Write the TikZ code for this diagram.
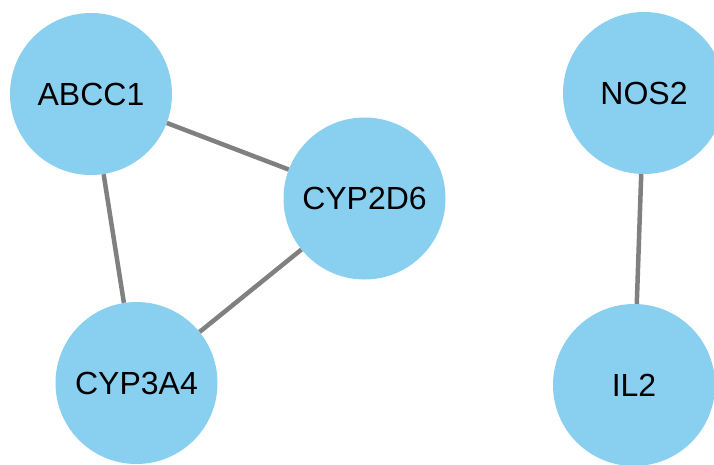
\documentclass[tikz,border=0pt]{standalone}
\usepackage{fontspec}
\setmainfont{Liberation Sans}
\definecolor{nodeblue}{RGB}{137,207,240}
\definecolor{edgegray}{RGB}{128,128,128}
\begin{document}
\begin{tikzpicture}[x=1pt,y=-1pt,
  gene/.style={circle,fill=nodeblue,draw=none,minimum size=162pt,inner sep=0pt,font=\fontsize{32}{36}\selectfont},
  link/.style={draw=edgegray,line width=4.5pt}]
\useasboundingbox (0,0) rectangle (714,464);
\clip (0,0) rectangle (714,464);
\fill[white] (0,0) rectangle (714,464);
\node[gene] (abcc1) at (91,94) {ABCC1};
\node[gene] (cyp2d6) at (364.5,198.5) {CYP2D6};
\node[gene] (cyp3a4) at (136.5,383) {CYP3A4};
\node[gene] (nos2) at (644,93) {NOS2};
\node[gene] (il2) at (634,385) {IL2};
\draw[link] (abcc1) -- (cyp2d6);
\draw[link] (abcc1) -- (cyp3a4);
\draw[link] (cyp2d6) -- (cyp3a4);
\draw[link] (nos2) -- (il2);
\end{tikzpicture}
\end{document}
